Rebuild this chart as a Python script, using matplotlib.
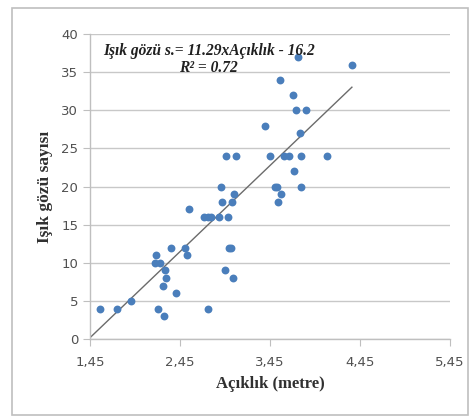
import matplotlib.pyplot as plt
from matplotlib.patches import Rectangle

# Açıklık (m) vs Işık gözü sayısı
aciklik = [1.56, 1.75, 1.91, 2.17, 2.18, 2.23, 2.21, 2.27, 2.26, 2.28, 2.29, 2.35, 2.41,
           2.51, 2.53, 2.55, 2.72, 2.76, 2.79, 2.88, 2.98, 2.76, 2.91, 2.92, 2.95, 2.96,
           2.99, 3.02, 3.03, 3.04, 3.05, 3.07, 3.39, 3.45, 3.50, 3.53, 3.54, 3.56, 3.57,
           3.61, 3.66, 3.70, 3.72, 3.74, 3.76, 3.78, 3.79, 3.79, 3.85, 4.08, 4.36]
isik_gozu = [4, 4, 5, 10, 11, 10, 4, 3, 7, 9, 8, 12, 6,
             12, 11, 17, 16, 16, 16, 16, 16, 4, 20, 18, 9, 24,
             12, 12, 18, 8, 19, 24, 28, 24, 20, 20, 18, 34, 19,
             24, 24, 32, 22, 30, 37, 27, 24, 20, 30, 24, 36]

slope, intercept = 11.29, -16.2
x_ticks = [1.45, 2.45, 3.45, 4.45, 5.45]
x_tick_labels = ["1,45", "2,45", "3,45", "4,45", "5,45"]
y_ticks = [0, 5, 10, 15, 20, 25, 30, 35, 40]

fig = plt.figure(figsize=(4.76, 4.17), dpi=100)
fig.patches.append(Rectangle((12 / 476, 1 - 415 / 417), 456 / 476, 407 / 417,
                             transform=fig.transFigure, fill=False,
                             edgecolor="#bfbfbf", linewidth=1.2))
ax = fig.add_axes([90 / 476, 1 - 339 / 417, 360 / 476, 305 / 417])

ax.scatter(aciklik, isik_gozu, s=32, color="#4a7ebb", zorder=3, linewidths=0)
x0, x1 = 1.45, max(aciklik)
ax.plot([x0, x1], [slope * x0 + intercept, slope * x1 + intercept],
        color="#6b6b6b", linewidth=1.0, zorder=2)

ax.set_xlim(1.45, 5.45)
ax.set_ylim(0, 40)
ax.set_xticks(x_ticks)
ax.set_xticklabels(x_tick_labels)
ax.set_yticks(y_ticks)
ax.grid(axis="y", color="#c8c8c8", linewidth=1.0)
ax.set_axisbelow(True)
for s in ["top", "right"]:
    ax.spines[s].set_visible(False)
for s in ["left", "bottom"]:
    ax.spines[s].set_color("#bfbfbf")
    ax.spines[s].set_linewidth(1.0)
ax.tick_params(axis="both", colors="#bfbfbf", length=5, labelsize=9.5, labelcolor="#505050")
ax.tick_params(axis="x", pad=7)

ax.set_xlabel("Açıklık (metre)", family="Liberation Serif", fontweight="bold",
              fontsize=12, color="#303030", labelpad=5)
ax.set_ylabel("Işık gözü sayısı", family="Liberation Serif", fontweight="bold",
              fontsize=12.5, color="#303030", labelpad=6)

ax.text(0.33, 0.97, "Işık gözü s.= 11.29xAçıklık - 16.2\nR² = 0.72",
        transform=ax.transAxes, ha="center", va="top", family="Liberation Serif",
        fontweight="bold", style="italic", fontsize=11.2, color="#202020",
        linespacing=1.05)

fig.savefig("out.png", dpi=100)
